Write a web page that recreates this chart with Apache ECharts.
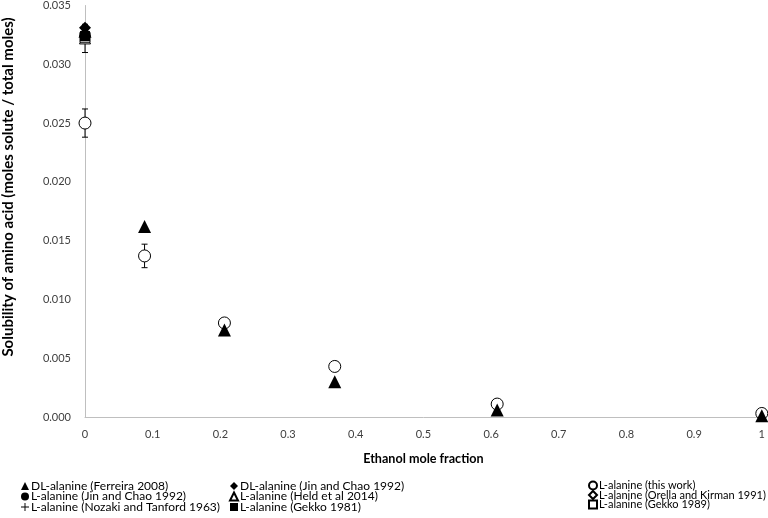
<!DOCTYPE html>
<html><head><meta charset="utf-8">
<script src="https://cdn.jsdelivr.net/npm/echarts@6/dist/echarts.min.js"></script>
<style>html,body{margin:0;padding:0;background:#fff}#c{width:768px;height:518px}</style>
</head><body><div id="c"></div>
<script>
// Data
const ferreiraDL = [[0,0.0328],[0.088,0.0162],[0.206,0.0074],[0.369,0.0030],[0.609,0.0006],[1,0.0001]];
const jinChaoDL = [[0,0.0331]];
const thisWork = [[0,0.0250],[0.088,0.0137],[0.206,0.0080],[0.369,0.0043],[0.609,0.0011],[1,0.0003]];
const thisWorkErr = [0.0012,0.0010,0.0002,0.0002,0.0001,0.0001];
const jinChaoL = [[0,0.0325]];
const heldL = [[0,0.0322]];
const heldErr = [0.0012];
const orellaL = [[0,0.0324]];
const nozakiL = [[0,0.0326]];
const gekko1981 = [[0,0.0324]];
const gekko1989 = [[0,0.0323]];
const xTicks = [0,0.1,0.2,0.3,0.4,0.5,0.6,0.7,0.8,0.9,1];
const yTicks = [0,0.005,0.010,0.015,0.020,0.025,0.030,0.035];

const FONT = 'Lato';
const plus = 'path://M4.4,0H5.6V4.4H10V5.6H5.6V10H4.4V5.6H0V4.4H4.4Z';

function filled(name, data, symbol, size, z){
  return {name, type:'scatter', data, symbol, symbolSize:size, z:z||3,
    itemStyle:{color:'#000', borderColor:'#000', borderWidth:0, opacity:1}};
}
function open(name, data, symbol, size, z){
  return {name, type:'scatter', data, symbol, symbolSize:size, z:z||1,
    itemStyle:{color:'#fff', borderColor:'#000', borderWidth:1, opacity:1}};
}
function errSeries(data, errs, z){
  return {type:'custom', z:z, silent:true, legendHoverLink:false,
    data: data.map((d,i)=>[d[0], d[1], errs[i]]),
    renderItem:function(params, api){
      const x = api.value(0), y = api.value(1), e = api.value(2);
      const p1 = api.coord([x, y+e]), p2 = api.coord([x, y-e]);
      const w = 3;
      const st = {stroke:'#000', lineWidth:1};
      return {type:'group', children:[
        {type:'line', shape:{x1:p1[0],y1:p1[1],x2:p2[0],y2:p2[1]}, style:st},
        {type:'line', shape:{x1:p1[0]-w,y1:p1[1],x2:p1[0]+w,y2:p1[1]}, style:st},
        {type:'line', shape:{x1:p2[0]-w,y1:p2[1],x2:p2[0]+w,y2:p2[1]}, style:st}
      ]};
    }};
}

const names = ['DL-alanine (Ferreira 2008)','DL-alanine (Jin and Chao 1992)','L-alanine (this work)',
 'L-alanine (Jin and Chao 1992)','L-alanine (Held et al 2014)','L-alanine (Orella and Kirman 1991)',
 'L-alanine (Nozaki and Tanford 1963)','L-alanine (Gekko 1981)','L-alanine (Gekko 1989)'];

function legendAt(left, data, fs){
  return {left, data, orient:'vertical', top:480, padding:0, itemWidth:8, itemHeight:8, itemGap:-1.5,
    textStyle:{fontFamily:FONT, fontSize:fs, lineHeight:10, color:'#000', padding:[0,0,0,-3]}, selectedMode:false};
}

const chart = echarts.init(document.getElementById('c'), null, {renderer:'canvas'});
chart.setOption({
  animation:false,
  grid:{left:85, right:5, top:5, bottom:101, containLabel:false},
  xAxis:{type:'value', min:0, max:1, interval:0.1,
    name:'Ethanol mole fraction', nameLocation:'middle', nameGap:35,
    nameTextStyle:{fontFamily:FONT, fontSize:12.6, fontWeight:'bold', color:'#000'},
    axisLine:{lineStyle:{color:'#bfbfbf', width:1}}, axisTick:{show:false}, splitLine:{show:false},
    axisLabel:{fontFamily:FONT, fontSize:11, color:'#404040', margin:12,
      formatter:v=>{const t=xTicks.find(k=>Math.abs(k-v)<1e-9); return t===undefined?'':String(t);}}},
  yAxis:{type:'value', min:0, max:0.035, interval:0.005,
    axisLine:{show:true, lineStyle:{color:'#bfbfbf', width:1}}, axisTick:{show:false}, splitLine:{show:false},
    axisLabel:{fontFamily:FONT, fontSize:11, color:'#404040', margin:14,
      formatter:v=>{const t=yTicks.find(k=>Math.abs(k-v)<1e-9); return t===undefined?'':t.toFixed(3);}}},
  graphic:[{type:'text', x:8, y:187, rotation:Math.PI/2,
    style:{text:'Solubility of amino acid (moles solute / total moles)', fontFamily:FONT, fontSize:15,
      fontWeight:'bold', fill:'#000', align:'center', verticalAlign:'middle'}}],
  legend:[
    legendAt(21, [names[0],names[3],names[6]], 12),
    legendAt(229, [names[1],names[4],names[7]], 12),
    legendAt(588, [names[2],names[5],names[8]], 11)
  ],
  series:[
    filled(names[0], ferreiraDL, 'triangle', 13, 4),
    filled(names[1], jinChaoDL, 'diamond', 12, 3),
    open(names[2], thisWork, 'circle', 12, 2),
    filled(names[3], jinChaoL, 'circle', 11, 3),
    open(names[4], heldL, 'triangle', 11, 1),
    open(names[5], orellaL, 'diamond', 11, 1),
    filled(names[6], nozakiL, plus, 9, 1),
    filled(names[7], gekko1981, 'rect', 10, 3),
    open(names[8], gekko1989, 'rect', 10, 1),
    errSeries(thisWork, thisWorkErr, 2),
    errSeries(heldL, heldErr, 1)
  ]
});
</script></body></html>
